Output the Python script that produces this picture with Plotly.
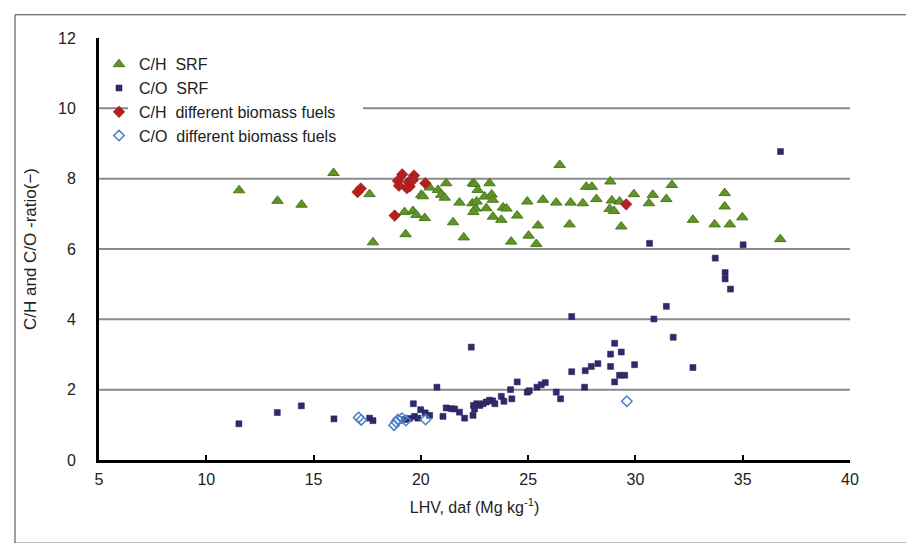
import plotly.graph_objects as go

# ---- data ----
ch_srf_x = [11.53, 13.32, 14.44, 15.93, 17.61, 17.77, 19.24, 19.29, 19.63, 19.79,
            20.18, 20.02, 20.10, 20.41, 20.80, 20.95, 21.18, 21.11, 21.50, 21.80,
            22.00, 22.42, 22.50, 22.65, 23.20, 22.40, 22.55, 22.45, 22.60, 22.97,
            23.05, 23.30, 23.35, 23.83, 23.99, 23.36, 23.75, 24.49, 24.96, 24.21,
            25.02, 25.38, 25.46, 25.69, 26.31, 26.47, 26.93, 26.98, 27.55, 27.71,
            27.97, 28.18, 28.83, 28.90, 28.80, 29.00, 29.26, 29.34, 29.93, 30.63,
            30.81, 31.44, 31.70, 32.68, 33.69, 34.16, 34.16, 34.40, 34.98, 36.75]
ch_srf_y = [7.67, 7.37, 7.26, 8.16, 7.56, 6.19, 7.05, 6.42, 7.08, 6.97,
            6.88, 7.54, 7.50, 7.75, 7.68, 7.54, 7.87, 7.46, 6.76, 7.32,
            6.33, 7.87, 7.85, 7.68, 7.87, 7.30, 7.15, 7.05, 7.35, 7.49,
            7.16, 7.55, 7.40, 7.18, 7.15, 6.92, 6.83, 6.95, 7.35, 6.21,
            6.38, 6.14, 6.67, 7.40, 7.32, 8.39, 6.70, 7.32, 7.30, 7.77,
            7.77, 7.42, 7.92, 7.38, 7.14, 7.08, 7.35, 6.64, 7.56, 7.30,
            7.54, 7.42, 7.82, 6.83, 6.70, 7.59, 7.21, 6.70, 6.90, 6.28]

co_srf_x = [11.52, 13.31, 14.43, 15.95, 17.61, 17.77, 19.24, 19.47, 19.70, 19.86,
            19.65, 19.99, 20.20, 20.41, 20.75, 21.03, 21.18, 21.42, 21.57, 21.80,
            22.04, 22.35, 22.43, 22.45, 22.60, 22.75, 22.90, 23.05, 23.20, 23.35,
            23.45, 22.50, 23.75, 23.87, 24.18, 24.24, 24.49, 24.96, 25.05, 25.41,
            25.61, 25.80, 26.31, 26.51, 27.03, 27.03, 27.63, 27.66, 27.94, 28.25,
            28.84, 29.03, 29.34, 28.84, 29.96, 29.26, 29.50, 29.03, 30.66, 30.86,
            31.44, 31.76, 32.68, 33.72, 34.18, 34.18, 34.43, 35.02, 36.76]
co_srf_y = [1.03, 1.35, 1.54, 1.17, 1.19, 1.12, 1.15, 1.18, 1.24, 1.19,
            1.60, 1.43, 1.34, 1.27, 2.07, 1.24, 1.48, 1.46, 1.45, 1.36,
            1.19, 3.21, 1.27, 1.55, 1.60, 1.55, 1.60, 1.65, 1.70, 1.68,
            1.60, 1.45, 1.81, 1.67, 2.00, 1.74, 2.22, 1.93, 1.97, 2.07,
            2.14, 2.20, 1.93, 1.74, 4.08, 2.51, 2.07, 2.54, 2.66, 2.74,
            3.01, 3.32, 3.07, 2.66, 2.71, 2.41, 2.41, 2.22, 6.16, 4.01,
            4.37, 3.49, 2.63, 5.74, 5.33, 5.15, 4.86, 6.12, 8.77]

ch_bio_x = [17.05, 17.20, 19.13, 18.93, 18.98, 19.43, 19.48, 19.68, 19.63, 19.35, 20.21, 18.78, 29.57]
ch_bio_y = [7.62, 7.72, 8.12, 7.94, 7.80, 7.90, 7.78, 8.09, 7.96, 7.73, 7.87, 6.95, 7.27]

co_bio_x = [17.10, 17.22, 18.75, 18.93, 19.12, 18.85, 19.30, 20.22, 29.60]
co_bio_y = [1.21, 1.14, 0.99, 1.15, 1.19, 1.08, 1.12, 1.15, 1.67]

series_names = ["C/H  SRF", "C/O  SRF", "C/H  different biomass fuels", "C/O  different biomass fuels"]
x_ticks = [5, 10, 15, 20, 25, 30, 35, 40]
y_ticks = [0, 2, 4, 6, 8, 10, 12]
grid_vals = [2, 4, 6, 8, 10]

FONT = "Liberation Sans, Arial, sans-serif"

fig = go.Figure()
fig.add_trace(go.Scatter(x=ch_srf_x, y=ch_srf_y, mode="markers", name=series_names[0],
                         marker=dict(symbol="triangle-up", size=10, color="#5f9428",
                                     line=dict(color="#4a7a1c", width=1))))
fig.add_trace(go.Scatter(x=co_srf_x, y=co_srf_y, mode="markers", name=series_names[1],
                         marker=dict(symbol="square", size=6, color="#2f2a6b",
                                     line=dict(color="#231f55", width=0.5))))
fig.add_trace(go.Scatter(x=ch_bio_x, y=ch_bio_y, mode="markers", name=series_names[2],
                         marker=dict(symbol="diamond", size=9, color="#b3201f",
                                     line=dict(color="#9a1a1a", width=0.5))))
fig.add_trace(go.Scatter(x=co_bio_x, y=co_bio_y, mode="markers", name=series_names[3],
                         marker=dict(symbol="diamond-open", size=8, color="#4a7fc4",
                                     line=dict(color="#4a7fc4", width=1.5))))

shapes = [dict(type="line", xref="paper", x0=0, x1=1, yref="y", y0=g, y1=g,
               line=dict(color="#8a8a8a", width=2), layer="below") for g in grid_vals]
# white panel behind the legend (interrupts the top gridline as in the reference)
shapes.append(dict(type="rect", xref="paper", yref="paper",
                   x0=0.0386, x1=0.3515, y0=0.70, y1=0.93,
                   fillcolor="white", line=dict(width=0), layer="below"))
# thin outer frame around the picture
shapes.append(dict(type="rect", xref="paper", yref="paper",
                   x0=-0.1118, x1=1.0839, y0=-0.197, y1=1.055,
                   line=dict(color="#444444", width=1)))

fig.update_layout(
    width=914, height=543,
    margin=dict(l=91, r=72, t=30, b=91),
    paper_bgcolor="white", plot_bgcolor="white",
    font=dict(family=FONT, color="#222222"),
    shapes=shapes,
    showlegend=True,
    legend=dict(x=0.0, y=0.978, xanchor="left", yanchor="top",
                bgcolor="rgba(0,0,0,0)", borderwidth=0,
                font=dict(size=16, family=FONT, color="#222222"),
                tracegroupgap=0),
    xaxis=dict(range=[5, 40], tickvals=x_ticks, showgrid=False, zeroline=False,
               showline=True, linecolor="black", linewidth=3,
               ticks="inside", ticklen=5, tickwidth=1.5, tickcolor="black",
               tickfont=dict(size=16, family=FONT, color="#222222"),
               ticklabelstandoff=3,
               title=dict(text="LHV, daf (Mg kg<sup>-1</sup>)", standoff=15,
                          font=dict(size=16, family=FONT, color="#222222"))),
    yaxis=dict(range=[0, 12], tickvals=y_ticks, showgrid=False, zeroline=False,
               showline=True, linecolor="black", linewidth=3, ticks="",
               tickfont=dict(size=16, family=FONT, color="#222222"),
               ticklabelstandoff=17,
               title=dict(text="C/H and C/O -ratio(−)", standoff=18,
                          font=dict(size=17, family=FONT, color="#222222"))),
)

fig.write_html("out.html")
